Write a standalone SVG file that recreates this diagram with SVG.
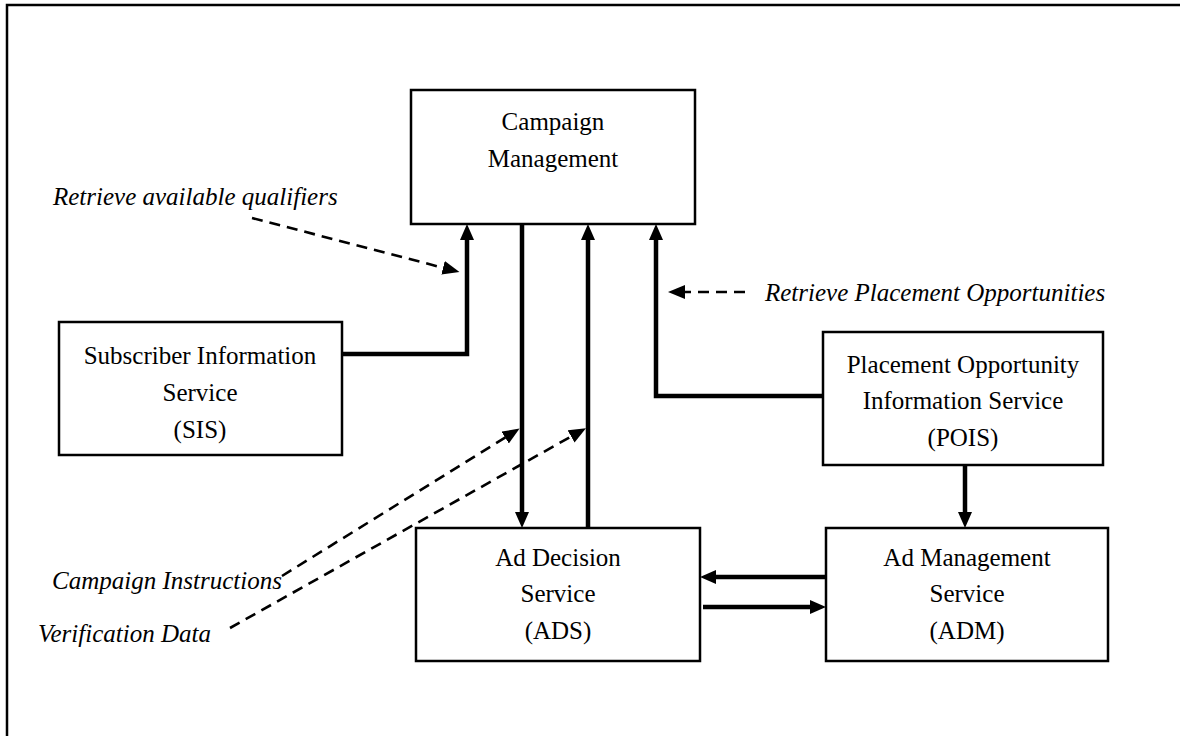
<svg xmlns="http://www.w3.org/2000/svg" width="1180" height="736" viewBox="0 0 1180 736">
  <style>
    .box { fill: #ffffff; stroke: #000000; stroke-width: 2.5; }
    .lbl { font-family: "Liberation Serif", "Times New Roman", serif; font-size: 25px; fill: #000000; text-anchor: middle; }
    .note { font-family: "Liberation Serif", "Times New Roman", serif; font-size: 25px; font-style: italic; fill: #000000; }
    .flow { fill: none; stroke: #000000; stroke-width: 4.5; marker-end: url(#head); }
    .hint { fill: none; stroke: #000000; stroke-width: 2.6; stroke-dasharray: 11 7; marker-end: url(#dhead); }
  </style>
  <defs>
    <marker id="head" markerUnits="userSpaceOnUse" markerWidth="18" markerHeight="16" refX="1" refY="7" orient="auto">
      <path d="M0,0 L16,7 L0,14 z" fill="#000000"/>
    </marker>
    <marker id="dhead" markerUnits="userSpaceOnUse" markerWidth="20" markerHeight="16" refX="1" refY="7" orient="auto">
      <path d="M0,0 L17,7 L0,14 z" fill="#000000"/>
    </marker>
  </defs>

  <rect x="0" y="0" width="1180" height="736" fill="#ffffff"/>
  <!-- page frame -->
  <path d="M7,736 L7,5 L1180,5" fill="none" stroke="#000000" stroke-width="2.5"/>

  <g id="campaign-management">
    <rect class="box" x="411" y="90" width="284" height="134"/>
    <text class="lbl" x="553" y="130">Campaign</text>
    <text class="lbl" x="553" y="167">Management</text>
  </g>

  <g id="sis">
    <rect class="box" x="59" y="322" width="283" height="133"/>
    <text class="lbl" x="200" y="364">Subscriber Information</text>
    <text class="lbl" x="200" y="401">Service</text>
    <text class="lbl" x="200" y="438">(SIS)</text>
  </g>

  <g id="pois">
    <rect class="box" x="823" y="332" width="280" height="133"/>
    <text class="lbl" x="963" y="373">Placement Opportunity</text>
    <text class="lbl" x="963" y="409">Information Service</text>
    <text class="lbl" x="963" y="446">(POIS)</text>
  </g>

  <g id="ads">
    <rect class="box" x="416" y="528" width="284" height="133"/>
    <text class="lbl" x="558" y="566">Ad Decision</text>
    <text class="lbl" x="558" y="602">Service</text>
    <text class="lbl" x="558" y="639">(ADS)</text>
  </g>

  <g id="adm">
    <rect class="box" x="826" y="528" width="282" height="133"/>
    <text class="lbl" x="967" y="566">Ad Management</text>
    <text class="lbl" x="967" y="602">Service</text>
    <text class="lbl" x="967" y="639">(ADM)</text>
  </g>

  <g id="connectors">
    <line class="flow" x1="522" y1="224" x2="522" y2="513"/>
    <line class="flow" x1="588" y1="528" x2="588" y2="239"/>
    <polyline class="flow" points="342,354 467,354 467,239"/>
    <polyline class="flow" points="823,396 656,396 656,239"/>
    <line class="flow" x1="965" y1="465" x2="965" y2="513"/>
    <line class="flow" x1="826" y1="577" x2="715" y2="577"/>
    <line class="flow" x1="703" y1="607" x2="811" y2="607"/>

    <line class="hint" x1="252" y1="218" x2="444" y2="268"/>
    <line class="hint" x1="282" y1="576" x2="506" y2="437"/>
    <line class="hint" x1="230" y1="628" x2="572" y2="436"/>
    <line class="hint" x1="745" y1="292" x2="684" y2="292"/>
  </g>

  <g id="notes">
    <text class="note" x="53" y="205">Retrieve available qualifiers</text>
    <text class="note" x="765" y="301">Retrieve Placement Opportunities</text>
    <text class="note" x="52" y="589">Campaign Instructions</text>
    <text class="note" x="38" y="642">Verification Data</text>
  </g>
</svg>
